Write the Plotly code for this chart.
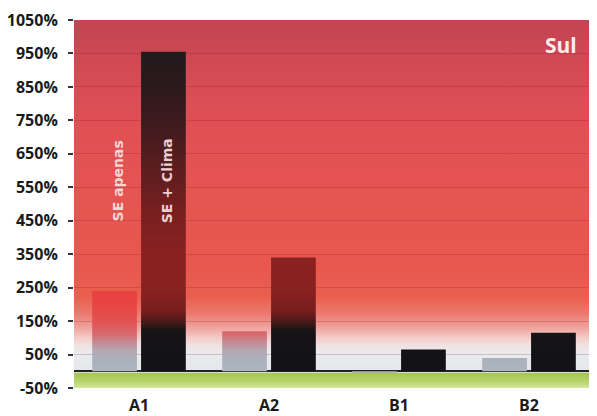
import base64
import plotly.graph_objects as go

# ---------------- data ----------------
categories = ["A1", "A2", "B1", "B2"]
se_apenas = [240, 120, -5, 40]
se_clima = [955, 340, 65, 115]
y_ticks = list(range(-50, 1051, 100))
y_tick_labels = [f"{v}%" for v in y_ticks]
series_names = ["SE apenas", "SE + Clima"]
panel_title = "Sul"

# ---------------- layout constants ----------------
Y_MIN, Y_MAX = -50, 1050
OFFSET = 0.188      # bar centre offset from category centre (category units)
HALF_W = 0.172      # half bar width (category units)
FONT = "Open Sans"

# colour stops (in axis values) for the vertical gradients
clima_stops = [(0, "#121114"), (110, "#151317"), (125, "#1c1517"), (145, "#461818"),
               (180, "#781e1e"), (250, "#8a2121"), (350, "#8a2121"), (450, "#7c1f20"),
               (550, "#681e20"), (650, "#521c1e"), (750, "#3c1a1d"), (850, "#2c191c"),
               (1000, "#1e191c")]
apenas_stops = [(-5, "#aab2bc"), (0, "#adb5bf"), (30, "#abb2bd"), (60, "#b2aab5"),
                (85, "#c48c96"), (110, "#d86a70"), (150, "#e25252"), (200, "#e84444"),
                (250, "#e84040")]
bg_stops = [(1050, "#c34453"), (1000, "#c84653"), (900, "#d34a54"), (800, "#dc4e55"),
            (650, "#e35253"), (450, "#e65650"), (300, "#e8584f"), (220, "#e9604f"),
            (170, "#ec7a70"), (130, "#f0a39e"), (100, "#f3cbc8"), (75, "#f0e4e4"),
            (50, "#e9ebee"), (-3, "#e4e6e9"), (-6, "#a6c653"), (-30, "#b6d46a"),
            (-50, "#d4e89c")]


def bar_polygons(values, side):
    xs, ys = [], []
    for i, v in enumerate(values):
        c = i + side * OFFSET
        xs += [c - HALF_W, c - HALF_W, c + HALF_W, c + HALF_W, c - HALF_W, None]
        ys += [0, v, v, 0, 0, None]
    return xs, ys


def colorscale(stops, lo, hi):
    cs = [((v - lo) / (hi - lo), c) for v, c in stops]
    cs.sort(key=lambda t: t[0])
    return cs


# background gradient as an SVG image stretched over the plot area
svg_stops = "".join(
    f'<stop offset="{(Y_MAX - v) / (Y_MAX - Y_MIN):.4f}" stop-color="{c}"/>' for v, c in bg_stops)
svg = ('<svg xmlns="http://www.w3.org/2000/svg" width="100" height="1100" preserveAspectRatio="none">'
       '<defs><linearGradient id="g" x1="0" y1="0" x2="0" y2="1">' + svg_stops +
       '</linearGradient></defs><rect width="100" height="1100" fill="url(#g)"/></svg>')
svg_uri = "data:image/svg+xml;base64," + base64.b64encode(svg.encode()).decode()

fig = go.Figure()

xa, ya = bar_polygons(se_apenas, -1)
fig.add_trace(go.Scatter(
    x=xa, y=ya, mode="lines", fill="toself", line=dict(width=0),
    name=series_names[0], hoverinfo="skip",
    fillgradient=dict(type="vertical", start=-5, stop=250,
                      colorscale=colorscale(apenas_stops, -5, 250))))

xc, yc = bar_polygons(se_clima, 1)
fig.add_trace(go.Scatter(
    x=xc, y=yc, mode="lines", fill="toself", line=dict(width=0),
    name=series_names[1], hoverinfo="skip",
    fillgradient=dict(type="vertical", start=0, stop=1000,
                      colorscale=colorscale(clima_stops, 0, 1000))))

# series labels written inside the A1 bars
for side, name, col in zip([-1, 1], series_names, ["#f8d6d4", "#ecd0d0"]):
    fig.add_annotation(x=0 + side * OFFSET + 0.025, y=570, xref="x", yref="y",
                       text=f"<b>{name}</b>", textangle=-90, showarrow=False,
                       font=dict(family="DejaVu Sans", size=14, color=col))

fig.add_annotation(x=0.972, y=0.975, xref="paper", yref="paper", xanchor="right",
                   yanchor="top", text=f"<b>{panel_title}</b>", showarrow=False,
                   font=dict(family=FONT, size=21, color="#fbecec"))

fig.add_layout_image(dict(source=svg_uri, xref="paper", yref="paper", x=0, y=1,
                          sizex=1, sizey=1, sizing="stretch", layer="below",
                          xanchor="left", yanchor="top"))

# the page body has an 8px default margin, so the figure is sized to fit the window
fig.update_layout(
    width=589, height=408,
    margin=dict(l=66, r=3, t=12, b=28, autoexpand=False),
    paper_bgcolor="white", plot_bgcolor="rgba(0,0,0,0)",
    showlegend=False,
    font=dict(family=FONT, color="#1a1a1a"),
    xaxis=dict(range=[-0.5, 3.5], tickvals=list(range(len(categories))),
               ticktext=categories, showgrid=False, zeroline=False, showline=False,
               ticks="", tickfont=dict(family=FONT, size=16, weight=700, color="#1a1a1a"),
               ticklabelstandoff=6, automargin=False, fixedrange=True),
    yaxis=dict(range=[Y_MIN, Y_MAX], tickvals=y_ticks, ticktext=y_tick_labels,
               showgrid=True, gridcolor="rgba(130,25,35,0.22)", gridwidth=1,
               zeroline=True, zerolinecolor="#222222", zerolinewidth=2,
               ticks="outside", ticklen=5, tickwidth=2, tickcolor="#333333",
               showline=False, ticklabelstandoff=7, automargin=False,
               tickfont=dict(family=FONT, size=16, weight=700, color="#1a1a1a"),
               fixedrange=True),
)

fig.write_html("out.html")
